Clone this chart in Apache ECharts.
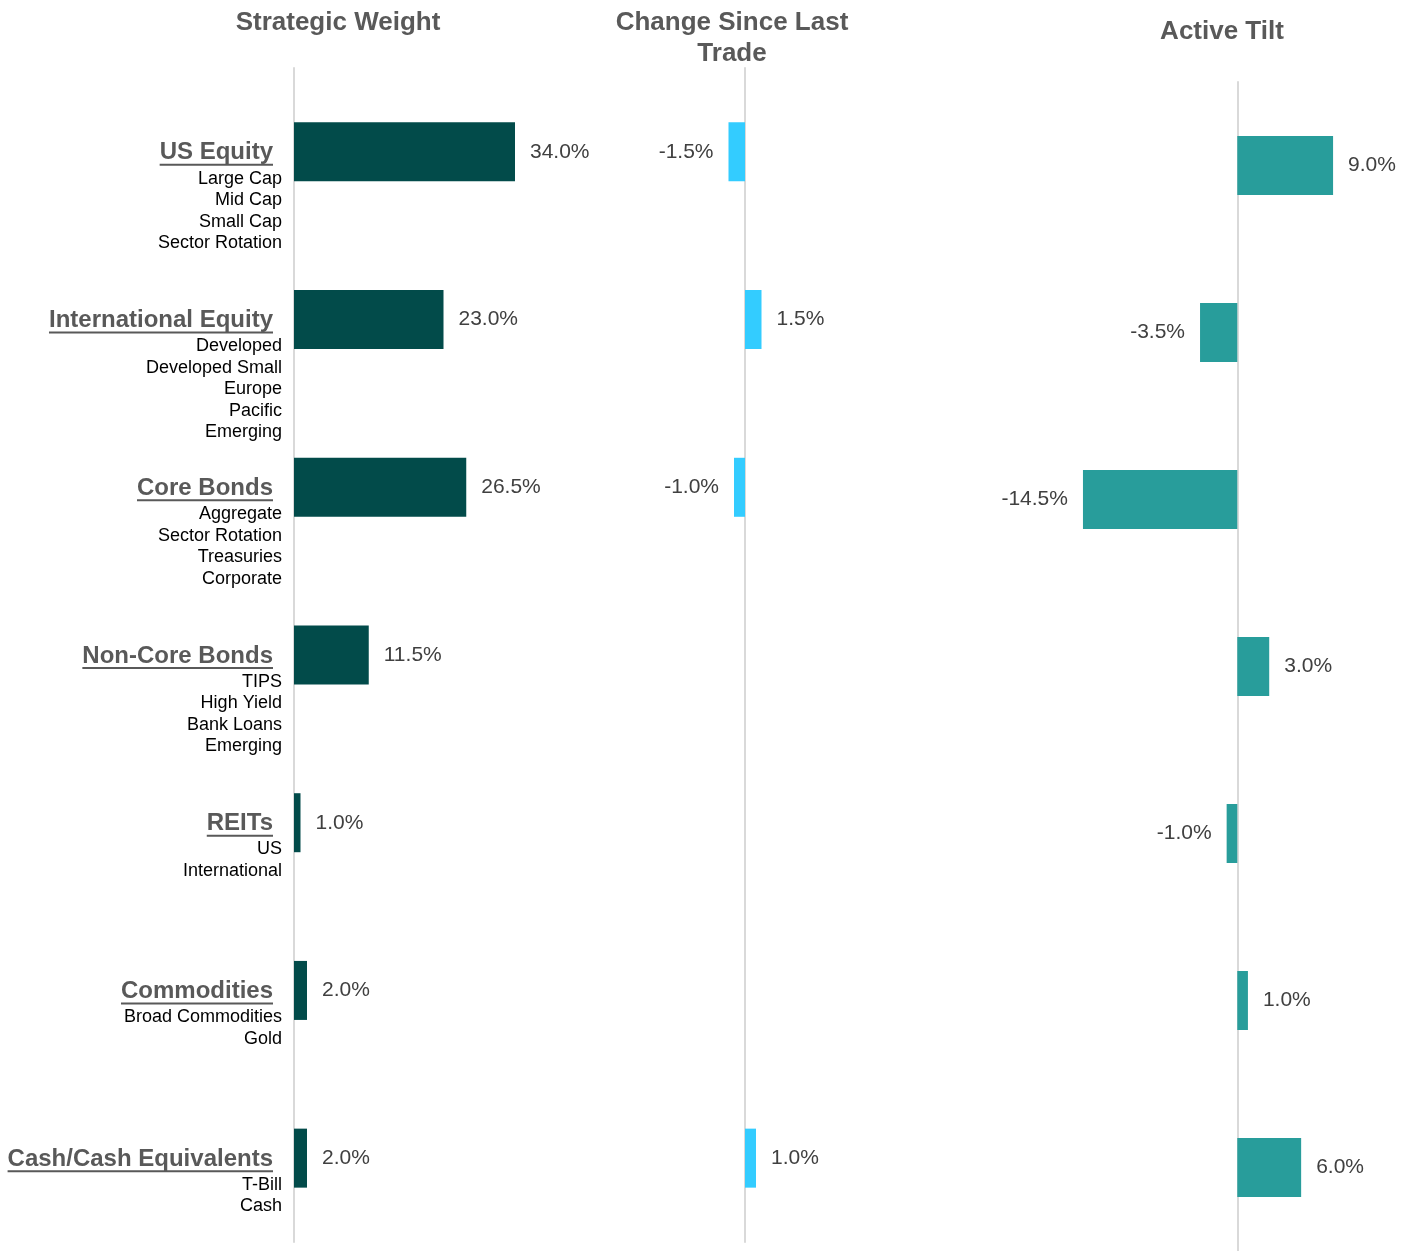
<!DOCTYPE html>
<html>
<head>
<meta charset="utf-8">
<title>Portfolio Allocation</title>
<script src="https://cdn.jsdelivr.net/npm/echarts@6/dist/echarts.min.js"></script>
<style>
html, body { margin: 0; padding: 0; background: #fff; }
#main { width: 1413px; height: 1251px; }
</style>
</head>
<body>
<div id="main"></div>
<script>
// data
var categories = ['US Equity', 'International Equity', 'Core Bonds', 'Non-Core Bonds', 'REITs', 'Commodities', 'Cash/Cash Equivalents'];
var subItems = [
    ['Large Cap', 'Mid Cap', 'Small Cap', 'Sector Rotation'],
    ['Developed', 'Developed Small', 'Europe', 'Pacific', 'Emerging'],
    ['Aggregate', 'Sector Rotation', 'Treasuries', 'Corporate'],
    ['TIPS', 'High Yield', 'Bank Loans', 'Emerging'],
    ['US', 'International'],
    ['Broad Commodities', 'Gold'],
    ['T-Bill', 'Cash']
];
var strategicWeight = [34.0, 23.0, 26.5, 11.5, 1.0, 2.0, 2.0];
var changeSinceLastTrade = [-1.5, 1.5, -1.0, null, null, null, 1.0];
var activeTilt = [9.0, -3.5, -14.5, 3.0, -1.0, 1.0, 6.0];
var panelTitles = ['Strategic Weight', 'Change Since Last\nTrade', 'Active Tilt'];

var FONT = '"Liberation Sans", Arial, sans-serif';
var chart = echarts.init(document.getElementById('main'));

// 每个面板的柱子数据，负值标签放左边
function barData(arr) {
    return arr.map(function (v) {
        if (v === null) return '-';
        return { value: v, label: { position: v < 0 ? 'left' : 'right' } };
    });
}

function barSeries(idx, arr, color) {
    return {
        type: 'bar',
        xAxisIndex: idx,
        yAxisIndex: idx,
        barWidth: 59,
        itemStyle: { color: color },
        label: {
            show: true,
            distance: 15,
            fontFamily: FONT,
            fontSize: 21,
            color: '#404040',
            formatter: function (p) { return Number(p.value).toFixed(1) + '%'; }
        },
        data: barData(arr)
    };
}

function yAxisOpt(idx) {
    return {
        type: 'category',
        gridIndex: idx,
        data: categories,
        inverse: true,
        axisLine: { show: true, lineStyle: { color: '#d9d9d9', width: 2 } },
        axisTick: { show: false },
        axisLabel: { show: false },
        splitLine: { show: false }
    };
}

function xAxisOpt(idx, min, max) {
    return { type: 'value', gridIndex: idx, min: min, max: max, show: false };
}

var option = {
    backgroundColor: '#fff',
    animation: false,
    grid: [
        { left: 294, top: 68, width: 260, height: 1174 },
        { left: 701, top: 68, width: 88, height: 1174 },
        { left: 1067, top: 82, width: 298, height: 1174 }
    ],
    xAxis: [xAxisOpt(0, 0, 40), xAxisOpt(1, -4, 4), xAxisOpt(2, -16, 12)],
    yAxis: [yAxisOpt(0), yAxisOpt(1), yAxisOpt(2)],
    series: [
        barSeries(0, strategicWeight, '#024b4a'),
        barSeries(1, changeSinceLastTrade, '#33ccff'),
        barSeries(2, activeTilt, '#289d9b')
    ]
};
chart.setOption(option);

// 左侧分类标签（带下划线）和标题
function buildGraphics() {
    var ctx = document.createElement('canvas').getContext('2d');
    ctx.font = 'bold 24px ' + FONT;
    var els = [];
    categories.forEach(function (name, i) {
        var y = chart.convertToPixel({ yAxisIndex: 0 }, i);
        var w = ctx.measureText(name).width;
        els.push({
            type: 'text', x: 273, y: y + 1,
            style: { text: name, fontFamily: FONT, fontSize: 24, fontWeight: 'bold', fill: '#595959', align: 'right', verticalAlign: 'middle' }
        });
        els.push({
            type: 'line',
            shape: { x1: 273 - w, y1: y + 13, x2: 273, y2: y + 13 },
            style: { stroke: '#595959', lineWidth: 2 }
        });
        els.push({
            type: 'text', x: 282, y: y + 16,
            style: { text: subItems[i].join('\n'), fontFamily: FONT, fontSize: 18, fill: '#000', align: 'right', verticalAlign: 'top', lineHeight: 21.5 }
        });
    });
    var titleX = [338, 732, 1222];
    var titleY = [7, 7, 16];
    panelTitles.forEach(function (t, i) {
        els.push({
            type: 'text', x: titleX[i], y: titleY[i],
            style: { text: t, fontFamily: FONT, fontSize: 26, fontWeight: 'bold', fill: '#595959', align: 'center', verticalAlign: 'top', lineHeight: 31 }
        });
    });
    chart.setOption({ graphic: els });
}
buildGraphics();
</script>
</body>
</html>
